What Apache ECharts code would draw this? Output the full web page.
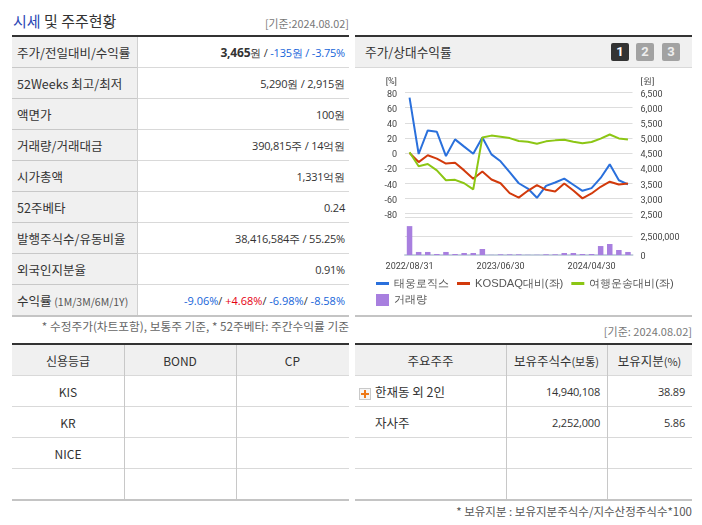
<!DOCTYPE html>
<html>
<head>
<meta charset="utf-8">
<title>시세 및 주주현황</title>
<script src="https://cdn.jsdelivr.net/npm/echarts@6/dist/echarts.min.js"></script>
<style>
html,body{margin:0;padding:0;background:#fff;}
body{position:relative;width:702px;height:525px;overflow:hidden;font-family:"Noto Sans CJK KR","Noto Sans",sans-serif;font-size:12px;color:#333;}
.abs{position:absolute;white-space:nowrap;}
.ln{position:absolute;background:#d9d9d9;}
.cell{position:absolute;white-space:nowrap;line-height:31px;height:31px;}
.num{font-family:"Open Sans",sans-serif;font-size:11px;letter-spacing:-0.2px;}
.num b{font-size:12px;}
.blue{color:#1664d9;}
.red{color:#e60012;}
.btn{position:absolute;top:43px;width:18px;height:18px;border-radius:2px;background:#a2a2a2;color:#eee;font:bold 13px/18px "Roboto",sans-serif;text-align:center;}
</style>
</head>
<body>
<div id="page"></div>
<div id="main" style="position:absolute;left:355px;top:68px;width:337px;height:247px;"></div>
<script type="text/javascript">
var dates = ['2022/08/31','2022/09/30','2022/10/31','2022/11/30','2022/12/31','2023/01/31','2023/02/28','2023/03/31','2023/04/30','2023/05/31','2023/06/30','2023/07/31','2023/08/31','2023/09/30','2023/10/31','2023/11/30','2023/12/31','2024/01/31','2024/02/29','2024/03/31','2024/04/30','2024/05/31','2024/06/30','2024/07/31','2024/08/02'];
var price = [6330,4467,5245,5200,4400,4950,4710,4475,5015,4455,4225,3865,3500,3325,3020,3415,3525,3655,3450,3250,3340,3675,4125,3600,3465];
var kosdaq = [0,-12,-3,-7.5,-14,-13,-23,-34,-24.5,-35,-40,-53,-59,-50,-42.5,-48.7,-51,-40.4,-49.6,-60,-53.5,-44.7,-38,-41.7,-40.4];
var sector = [1,-17.5,-14.5,-23,-36,-35.5,-40,-48,20.6,23,21.5,19.7,15.8,15,12.3,15.4,16.7,17.5,15,13,14.5,19,24.5,19.3,18];
var volume = [3800000,400000,400000,130000,400000,130000,260000,260000,790000,20000,90000,90000,90000,30000,30000,90000,90000,260000,260000,130000,130000,1180000,1450000,660000,400000];

var priceRows = [
	['주가/전일대비/수익률', '<b>3,465</b>원 / <span class="blue">-135원 / -3.75%</span>'],
	['52Weeks 최고/최저', '5,290원 / 2,915원'],
	['액면가', '100원'],
	['거래량/거래대금', '390,815주 / 14억원'],
	['시가총액', '1,331억원'],
	['52주베타', '0.24'],
	['발행주식수/유동비율', '38,416,584주 / 55.25%'],
	['외국인지분율', '0.91%'],
	['수익률 <span style="font-size:10.5px;color:#555">(1M/3M/6M/1Y)</span>', '<span style="letter-spacing:0"><span class="blue">-9.06%</span>/ <span class="red">+4.68%</span>/ <span class="blue">-6.98%</span>/ <span class="blue">-8.58%</span></span>']
];
var creditHead = ['신용등급','BOND','CP'];
var creditRows = ['KIS','KR','NICE',''];
var holderHead = ['주요주주','보유주식수<span style="font-size:11px">(보통)</span>','보유지분<span style="font-size:11px">(%)</span>'];
var holderRows = [['한재동 외 2인','14,940,108','38.89'],['자사주','2,252,000','5.86'],['','',''],['','','']];

var page = document.getElementById('page');
function box(x, y, w, h, color) {
	var d = document.createElement('div');
	d.className = 'ln';
	d.style.cssText = 'left:' + x + 'px;top:' + y + 'px;width:' + w + 'px;height:' + h + 'px;background:' + color;
	page.appendChild(d);
}
function text(cls, css, html) {
	var d = document.createElement('div');
	d.className = cls;
	d.style.cssText = css;
	d.innerHTML = html;
	page.appendChild(d);
}
var rowLine = '#d9d9d9', headBg = '#f0f0f0', strong = '#333', bold = '#c4c4c4';

// 시세 표
text('abs', 'left:13px;top:10px;font-size:15px;line-height:22px;', '<span style="color:#2b48b5">시세</span> 및 주주현황');
text('abs', 'right:353px;top:15px;font-size:10.8px;line-height:16px;color:#777;', '[기준:2024.08.02]');
box(12, 37, 125, 278, headBg);
box(12, 35, 337, 2, strong);
for (var i = 0; i < priceRows.length; i++) {
	var rowY = 37 + i * 31;
	text('cell', 'left:17px;top:' + rowY + 'px;font-size:12.5px;color:#333', priceRows[i][0]);
	text('cell num', 'right:357px;top:' + rowY + 'px;color:#333', priceRows[i][1]);
	if (i < 8) box(12, 67 + i * 31, 125, 1, '#c8c8c8');
	if (i < 8) box(137, 67 + i * 31, 212, 1, rowLine);
}
box(137, 37, 1, 278, '#d0d0d0');
box(12, 315, 337, 2, bold);
text('abs', 'right:353px;top:318px;font-size:11.7px;line-height:16px;color:#666;', '* 수정주가(차트포함), 보통주 기준, * 52주베타: 주간수익률 기준');

// 신용등급 표
box(12, 345, 337, 30, headBg);
box(12, 343, 337, 2, strong);
var creditX = [12, 124, 236, 349];
for (i = 0; i < creditHead.length; i++) {
	text('cell', 'left:' + creditX[i] + 'px;top:345px;width:' + (creditX[i + 1] - creditX[i]) + 'px;text-align:center;font-size:12px;', creditHead[i]);
}
for (i = 0; i < creditRows.length; i++) {
	text('cell', 'left:12px;top:' + (376 + i * 31) + 'px;width:112px;text-align:center;font-size:12px;', creditRows[i]);
	if (i < 3) box(12, 406 + i * 31, 337, 1, rowLine);
}
box(12, 375, 337, 1, rowLine);
box(124, 345, 1, 155, '#c8c8c8');
box(236, 345, 1, 155, '#c8c8c8');
box(12, 499, 337, 2, bold);

// 차트 헤더
box(355, 37, 337, 30, headBg);
box(355, 35, 337, 2, strong);
box(355, 67, 337, 1, rowLine);
text('abs', 'left:365px;top:43px;font-size:12.7px;line-height:18px;color:#333;', '주가/상대수익률');
text('btn', 'left:611px;background:#333;color:#fff;', '1');
text('btn', 'left:636px;', '2');
text('btn', 'left:662px;', '3');
box(355, 315, 337, 2, bold);
text('abs', 'right:10px;top:323px;font-size:11px;line-height:16px;color:#777;', '[기준: 2024.08.02]');

// 주요주주 표
box(355, 345, 337, 30, headBg);
box(355, 343, 337, 2, strong);
var holderX = [355, 506, 607, 692];
for (i = 0; i < holderHead.length; i++) {
	text('cell', 'left:' + holderX[i] + 'px;top:345px;width:' + (holderX[i + 1] - holderX[i]) + 'px;text-align:center;font-size:12.5px;', holderHead[i]);
}
for (i = 0; i < holderRows.length; i++) {
	var y = 376 + i * 31;
	text('cell', 'left:375px;top:' + y + 'px;font-size:12.5px;', holderRows[i][0]);
	text('cell num', 'right:' + (702 - 600) + 'px;top:' + y + 'px;', holderRows[i][1]);
	text('cell num', 'right:' + (702 - 685) + 'px;top:' + y + 'px;', holderRows[i][2]);
	if (i < 3) box(355, 406 + i * 31, 337, 1, rowLine);
}
box(355, 375, 337, 1, rowLine);
box(506, 345, 1, 155, '#c8c8c8');
box(607, 345, 1, 155, '#c8c8c8');
box(355, 499, 337, 2, bold);
text('abs', 'right:10px;top:503px;font-size:11.5px;line-height:16px;color:#555;', '* 보유지분 : 보유지분주식수/지수산정주식수*100');
// + 아이콘
box(359, 388, 12, 12, '#c9c9c9');
box(360, 389, 10, 10, '#f6f6f6');
box(364, 390, 2, 8, '#ee7a1a');
box(361, 393, 8, 2, '#ee7a1a');

var axisFont = { fontFamily: 'Roboto', fontSize: 9, color: '#444' };
// y축 눈금 글자를 격자선보다 살짝 아래로
var yLabel = Object.assign({ margin: 8, verticalAlign: 'top', lineHeight: 4 }, axisFont);
var myChart = echarts.init(document.getElementById('main'));
myChart.setOption({
	animation: false,
	grid: [
		{ left: 50, width: 227.5, top: 24.5, height: 121 },
		{ left: 50, width: 227.5, top: 149, height: 38 }
	],
	legend: [
		{ left: 21, top: 210, width: 316, itemWidth: 13, itemHeight: 3, itemGap: 8, icon: 'rect', padding: 0,
			textStyle: { fontSize: 11.2, color: '#555' },
			data: ['태웅로직스', 'KOSDAQ대비(좌)', '여행운송대비(좌)'] },
		{ left: 21, top: 226, itemWidth: 13, itemHeight: 12, icon: 'rect', padding: 0,
			textStyle: { fontSize: 11.2, color: '#555' },
			data: ['거래량'] }
	],
	xAxis: [
		{ type: 'category', gridIndex: 0, data: dates, axisLine: { show: false }, axisTick: { show: false }, axisLabel: { show: false } },
		{ type: 'category', gridIndex: 1, data: dates,
			axisLine: { lineStyle: { color: '#c6d2de', width: 2 } },
			axisTick: { length: 4, lineStyle: { color: '#c6d2de' },
				interval: function (index) { return index === 0 || index === 1 || index === 11 || index === 21; } },
			axisLabel: Object.assign({ margin: 7, interval: function (index) { return index % 10 === 0; } }, axisFont) }
	],
	yAxis: [
		{ type: 'value', gridIndex: 0, min: -80, max: 80, interval: 20, name: '[%]', nameGap: 6,
			nameTextStyle: Object.assign({ align: 'right', padding: [0, 8, 0, 0] }, axisFont),
			axisLine: { show: false }, axisTick: { show: false },
			axisLabel: yLabel,
			splitLine: { lineStyle: { color: '#ddd', width: 1 } } },
		{ type: 'value', gridIndex: 0, min: 2500, max: 6500, interval: 500, position: 'right', name: '[원]', nameGap: 6,
			nameTextStyle: Object.assign({ align: 'left', padding: [0, 0, 0, 8] }, axisFont),
			axisLine: { show: false }, axisTick: { show: false },
			axisLabel: Object.assign({ formatter: function (v) { return v.toLocaleString('en-US'); } }, yLabel),
			splitLine: { show: false } },
		{ type: 'value', gridIndex: 1, min: 0, max: 5000000, interval: 2500000, position: 'right',
			axisLine: { show: false }, axisTick: { show: false },
			axisLabel: Object.assign({ formatter: function (v) { return v === 5000000 ? '' : v.toLocaleString('en-US'); } }, yLabel),
			splitLine: { lineStyle: { color: '#ddd', width: 1 } } }
	],
	series: [
		{ name: '거래량', type: 'bar', xAxisIndex: 1, yAxisIndex: 2, data: volume, barWidth: 5.5, itemStyle: { color: '#a87fdf' } },
		{ name: '태웅로직스', type: 'line', xAxisIndex: 0, yAxisIndex: 1, data: price, symbol: 'none', lineStyle: { color: '#2a70dc', width: 2 }, itemStyle: { color: '#2a70dc' } },
		{ name: 'KOSDAQ대비(좌)', type: 'line', xAxisIndex: 0, yAxisIndex: 0, data: kosdaq, symbol: 'none', lineStyle: { color: '#d23a0c', width: 2 }, itemStyle: { color: '#d23a0c' } },
		{ name: '여행운송대비(좌)', type: 'line', xAxisIndex: 0, yAxisIndex: 0, data: sector, symbol: 'none', lineStyle: { color: '#8cc614', width: 2 }, itemStyle: { color: '#8cc614' } }
	]
});
</script>
</body>
</html>
